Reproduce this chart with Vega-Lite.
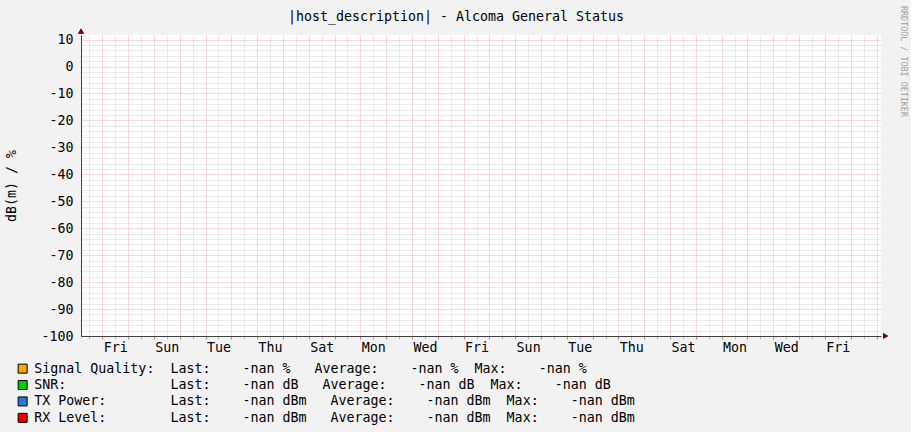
{
  "$schema": "https://vega.github.io/schema/vega-lite/v6.json",
  "width": 800,
  "height": 301,
  "autosize": "none",
  "padding": {"left": 81, "top": 35, "right": 30, "bottom": 96},
  "background": "#f2f2f2",
  "title": {
    "text": "|host_description| - Alcoma General Status",
    "font": "DejaVu Sans Mono",
    "fontSize": 13.3,
    "fontWeight": "normal",
    "color": "#000000",
    "anchor": "middle",
    "dx": -25,
    "offset": -29,
    "baseline": "alphabetic"
  },
  "config": {
    "view": {"fill": "#ffffff", "stroke": null},
    "font": "DejaVu Sans Mono"
  },
  "data": {
    "values": [
      {"time": "2024-01-04T04:10:00Z", "series": "Signal Quality:\u00a0\u00a0Last:\u00a0\u00a0\u00a0\u00a0-nan %\u00a0\u00a0\u00a0Average:\u00a0\u00a0\u00a0\u00a0-nan %\u00a0\u00a0Max:\u00a0\u00a0\u00a0\u00a0-nan %", "value": null},
      {"time": "2024-01-04T04:10:00Z", "series": "SNR:\u00a0\u00a0\u00a0\u00a0\u00a0\u00a0\u00a0\u00a0\u00a0\u00a0\u00a0\u00a0\u00a0Last:\u00a0\u00a0\u00a0\u00a0-nan dB\u00a0\u00a0\u00a0Average:\u00a0\u00a0\u00a0\u00a0-nan dB\u00a0\u00a0Max:\u00a0\u00a0\u00a0\u00a0-nan dB", "value": null},
      {"time": "2024-01-04T04:10:00Z", "series": "TX Power:\u00a0\u00a0\u00a0\u00a0\u00a0\u00a0\u00a0\u00a0Last:\u00a0\u00a0\u00a0\u00a0-nan dBm\u00a0\u00a0\u00a0Average:\u00a0\u00a0\u00a0\u00a0-nan dBm\u00a0\u00a0Max:\u00a0\u00a0\u00a0\u00a0-nan dBm", "value": null},
      {"time": "2024-01-04T04:10:00Z", "series": "RX Level:\u00a0\u00a0\u00a0\u00a0\u00a0\u00a0\u00a0\u00a0Last:\u00a0\u00a0\u00a0\u00a0-nan dBm\u00a0\u00a0\u00a0Average:\u00a0\u00a0\u00a0\u00a0-nan dBm\u00a0\u00a0Max:\u00a0\u00a0\u00a0\u00a0-nan dBm", "value": null}
    ]
  },
  "layer": [
    {
      "mark": {"type": "square", "filled": true, "size": 30},
      "encoding": {
        "x": {
          "field": "time", "type": "temporal",
          "scale": {"type": "utc", "domain": [
            {"year": 2024, "month": 1, "date": 4, "hours": 4, "minutes": 10, "utc": true},
            {"year": 2024, "month": 2, "date": 4, "hours": 4, "minutes": 10, "utc": true}
          ]},
          "axis": {
            "title": null,
            "grid": true,
            "gridColor": {"condition": {"test": "utchours(datum.value) == 0", "value": "#f2b0b0"}, "value": "#d6d6d6"},
            "gridDash": [1, 1],
            "gridWidth": 1,
            "values": [
              1704369600000, 1704412800000, 1704456000000, 1704499200000, 1704542400000, 1704585600000,
              1704628800000, 1704672000000, 1704715200000, 1704758400000, 1704801600000, 1704844800000,
              1704888000000, 1704931200000, 1704974400000, 1705017600000, 1705060800000, 1705104000000,
              1705147200000, 1705190400000, 1705233600000, 1705276800000, 1705320000000, 1705363200000,
              1705406400000, 1705449600000, 1705492800000, 1705536000000, 1705579200000, 1705622400000,
              1705665600000, 1705708800000, 1705752000000, 1705795200000, 1705838400000, 1705881600000,
              1705924800000, 1705968000000, 1706011200000, 1706054400000, 1706097600000, 1706140800000,
              1706184000000, 1706227200000, 1706270400000, 1706313600000, 1706356800000, 1706400000000,
              1706443200000, 1706486400000, 1706529600000, 1706572800000, 1706616000000, 1706659200000,
              1706702400000, 1706745600000, 1706788800000, 1706832000000, 1706875200000, 1706918400000,
              1706961600000, 1707004800000
            ],
            "ticks": true,
            "tickSize": 3,
            "tickColor": {"condition": {"test": "utchours(datum.value) == 0", "value": "#d77c7c"}, "value": "#b8b8b8"},
            "domain": true,
            "domainColor": "#404040",
            "domainWidth": 1,
            "labelExpr": "utchours(datum.value) == 12 && floor((datum.value - 1704456000000) / 86400000 + 0.01) % 2 == 0 ? utcFormat(datum.value, '%a') : ''",
            "labelFont": "DejaVu Sans Mono",
            "labelFontSize": 13.3,
            "labelColor": "#000000",
            "labelBaseline": "alphabetic",
            "labelPadding": 12,
            "labelOverlap": false,
            "labelFlush": false,
            "labelBound": false
          }
        },
        "y": {
          "field": "value", "type": "quantitative",
          "scale": {"domain": [-100, 11.7], "nice": false, "zero": false},
          "axis": {
            "title": "dB(m) / %",
            "titleFont": "DejaVu Sans Mono",
            "titleFontSize": 13.3,
            "titleFontWeight": "normal",
            "titleColor": "#000000",
            "titleAngle": 270,
            "titleAlign": "center",
            "titleBaseline": "middle",
            "titleX": -69.5,
            "titleY": 150.5,
            "grid": true,
            "gridColor": {"condition": {"test": "datum.value % 10 == 0", "value": "#f2b0b0"}, "value": "#d6d6d6"},
            "gridDash": [1, 1],
            "gridWidth": 1,
            "tickCount": 56,
            "ticks": false,
            "domain": true,
            "domainColor": "#404040",
            "domainWidth": 1,
            "labelExpr": "datum.value % 10 == 0 ? '' + datum.value : ''",
            "labelFont": "DejaVu Sans Mono",
            "labelFontSize": 13.3,
            "labelColor": "#000000",
            "labelPadding": 8,
            "labelOverlap": false,
            "labelFlush": false,
            "labelBound": false
          }
        },
        "color": {
          "field": "series", "type": "nominal",
          "scale": {
            "domain": [
              "Signal Quality:\u00a0\u00a0Last:\u00a0\u00a0\u00a0\u00a0-nan %\u00a0\u00a0\u00a0Average:\u00a0\u00a0\u00a0\u00a0-nan %\u00a0\u00a0Max:\u00a0\u00a0\u00a0\u00a0-nan %",
              "SNR:\u00a0\u00a0\u00a0\u00a0\u00a0\u00a0\u00a0\u00a0\u00a0\u00a0\u00a0\u00a0\u00a0Last:\u00a0\u00a0\u00a0\u00a0-nan dB\u00a0\u00a0\u00a0Average:\u00a0\u00a0\u00a0\u00a0-nan dB\u00a0\u00a0Max:\u00a0\u00a0\u00a0\u00a0-nan dB",
              "TX Power:\u00a0\u00a0\u00a0\u00a0\u00a0\u00a0\u00a0\u00a0Last:\u00a0\u00a0\u00a0\u00a0-nan dBm\u00a0\u00a0\u00a0Average:\u00a0\u00a0\u00a0\u00a0-nan dBm\u00a0\u00a0Max:\u00a0\u00a0\u00a0\u00a0-nan dBm",
              "RX Level:\u00a0\u00a0\u00a0\u00a0\u00a0\u00a0\u00a0\u00a0Last:\u00a0\u00a0\u00a0\u00a0-nan dBm\u00a0\u00a0\u00a0Average:\u00a0\u00a0\u00a0\u00a0-nan dBm\u00a0\u00a0Max:\u00a0\u00a0\u00a0\u00a0-nan dBm"
            ],
            "range": ["#ffa500", "#00cc00", "#2677d9", "#ee0000"]
          },
          "legend": {
            "title": null,
            "orient": "none",
            "legendX": -65,
            "legendY": 327,
            "direction": "vertical",
            "padding": 0,
            "symbolType": "square",
            "symbolSize": 81,
            "symbolStrokeColor": "#000000",
            "symbolStrokeWidth": 1,
            "symbolOpacity": 1,
            "labelFont": "DejaVu Sans Mono",
            "labelFontSize": 13.3,
            "labelColor": "#000000",
            "labelLimit": 0,
            "labelOffset": 5,
            "rowPadding": 1.4
          }
        }
      }
    },
    {
      "mark": {"type": "square", "filled": true, "size": 30},
      "encoding": {
        "y": {
          "field": "value", "type": "quantitative",
          "scale": {"domain": [-100, 11.7], "nice": false, "zero": false},
          "axis": {
            "orient": "right",
            "title": "RRDTOOL / TOBI OETIKER",
            "titleFont": "DejaVu Sans Mono",
            "titleFontSize": 8.4,
            "titleFontWeight": "normal",
            "titleColor": "#a0a0a0",
            "titleAngle": 90,
            "titleAlign": "center",
            "titleBaseline": "middle",
            "titleX": 22,
            "titleY": 26,
            "labels": false,
            "ticks": false,
            "domain": false,
            "grid": false
          }
        }
      }
    },
    {
      "mark": {"type": "point", "shape": "triangle-right", "filled": true, "color": "#800000", "size": 30, "opacity": 1},
      "encoding": {
        "x": {
          "datum": {"year": 2024, "month": 2, "date": 4, "hours": 8, "minutes": 21, "utc": true}, "type": "temporal",
          "scale": {"type": "utc", "domain": [
            {"year": 2024, "month": 1, "date": 4, "hours": 4, "minutes": 10, "utc": true},
            {"year": 2024, "month": 2, "date": 4, "hours": 4, "minutes": 10, "utc": true}
          ]},
          "axis": {
            "title": null,
            "grid": true,
            "gridColor": {"condition": {"test": "utchours(datum.value) == 0", "value": "#f2b0b0"}, "value": "#d6d6d6"},
            "gridDash": [1, 1],
            "gridWidth": 1,
            "values": [
              1704369600000, 1704412800000, 1704456000000, 1704499200000, 1704542400000, 1704585600000,
              1704628800000, 1704672000000, 1704715200000, 1704758400000, 1704801600000, 1704844800000,
              1704888000000, 1704931200000, 1704974400000, 1705017600000, 1705060800000, 1705104000000,
              1705147200000, 1705190400000, 1705233600000, 1705276800000, 1705320000000, 1705363200000,
              1705406400000, 1705449600000, 1705492800000, 1705536000000, 1705579200000, 1705622400000,
              1705665600000, 1705708800000, 1705752000000, 1705795200000, 1705838400000, 1705881600000,
              1705924800000, 1705968000000, 1706011200000, 1706054400000, 1706097600000, 1706140800000,
              1706184000000, 1706227200000, 1706270400000, 1706313600000, 1706356800000, 1706400000000,
              1706443200000, 1706486400000, 1706529600000, 1706572800000, 1706616000000, 1706659200000,
              1706702400000, 1706745600000, 1706788800000, 1706832000000, 1706875200000, 1706918400000,
              1706961600000, 1707004800000
            ],
            "ticks": true,
            "tickSize": 3,
            "tickColor": {"condition": {"test": "utchours(datum.value) == 0", "value": "#d77c7c"}, "value": "#b8b8b8"},
            "domain": true,
            "domainColor": "#404040",
            "domainWidth": 1,
            "labelExpr": "utchours(datum.value) == 12 && floor((datum.value - 1704456000000) / 86400000 + 0.01) % 2 == 0 ? utcFormat(datum.value, '%a') : ''",
            "labelFont": "DejaVu Sans Mono",
            "labelFontSize": 13.3,
            "labelColor": "#000000",
            "labelBaseline": "alphabetic",
            "labelPadding": 12,
            "labelOverlap": false,
            "labelFlush": false,
            "labelBound": false
          }
        },
        "y": {"datum": -100, "type": "quantitative", "axis": null}
      }
    },
    {
      "mark": {"type": "point", "shape": "triangle-up", "filled": true, "color": "#800000", "size": 30, "opacity": 1},
      "encoding": {
        "x": {
          "datum": {"year": 2024, "month": 1, "date": 4, "hours": 4, "minutes": 10, "utc": true}, "type": "temporal",
          "scale": {"type": "utc", "domain": [
            {"year": 2024, "month": 1, "date": 4, "hours": 4, "minutes": 10, "utc": true},
            {"year": 2024, "month": 2, "date": 4, "hours": 4, "minutes": 10, "utc": true}
          ]},
          "axis": {
            "title": null,
            "grid": true,
            "gridColor": {"condition": {"test": "utchours(datum.value) == 0", "value": "#f2b0b0"}, "value": "#d6d6d6"},
            "gridDash": [1, 1],
            "gridWidth": 1,
            "values": [
              1704369600000, 1704412800000, 1704456000000, 1704499200000, 1704542400000, 1704585600000,
              1704628800000, 1704672000000, 1704715200000, 1704758400000, 1704801600000, 1704844800000,
              1704888000000, 1704931200000, 1704974400000, 1705017600000, 1705060800000, 1705104000000,
              1705147200000, 1705190400000, 1705233600000, 1705276800000, 1705320000000, 1705363200000,
              1705406400000, 1705449600000, 1705492800000, 1705536000000, 1705579200000, 1705622400000,
              1705665600000, 1705708800000, 1705752000000, 1705795200000, 1705838400000, 1705881600000,
              1705924800000, 1705968000000, 1706011200000, 1706054400000, 1706097600000, 1706140800000,
              1706184000000, 1706227200000, 1706270400000, 1706313600000, 1706356800000, 1706400000000,
              1706443200000, 1706486400000, 1706529600000, 1706572800000, 1706616000000, 1706659200000,
              1706702400000, 1706745600000, 1706788800000, 1706832000000, 1706875200000, 1706918400000,
              1706961600000, 1707004800000
            ],
            "ticks": true,
            "tickSize": 3,
            "tickColor": {"condition": {"test": "utchours(datum.value) == 0", "value": "#d77c7c"}, "value": "#b8b8b8"},
            "domain": true,
            "domainColor": "#404040",
            "domainWidth": 1,
            "labelExpr": "utchours(datum.value) == 12 && floor((datum.value - 1704456000000) / 86400000 + 0.01) % 2 == 0 ? utcFormat(datum.value, '%a') : ''",
            "labelFont": "DejaVu Sans Mono",
            "labelFontSize": 13.3,
            "labelColor": "#000000",
            "labelBaseline": "alphabetic",
            "labelPadding": 12,
            "labelOverlap": false,
            "labelFlush": false,
            "labelBound": false
          }
        },
        "y": {"datum": 13.1, "type": "quantitative", "axis": null}
      }
    }
  ],
  "resolve": {"axis": {"y": "independent"}}
}
